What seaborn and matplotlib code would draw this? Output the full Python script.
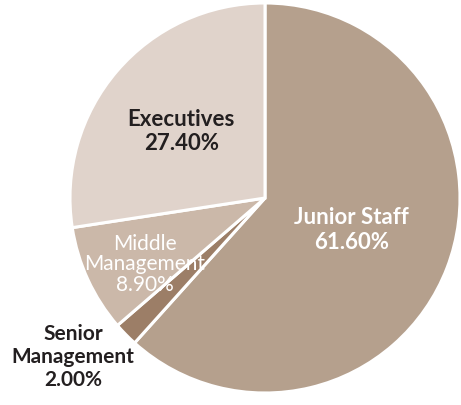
import matplotlib
matplotlib.use("Agg")
import matplotlib.pyplot as plt
import seaborn as sns

categories = ["Junior Staff", "Senior\nManagement", "Middle\nManagement", "Executives"]
shares = [61.60, 2.00, 8.90, 27.40]
colors = ["#b5a08d", "#9c7e67", "#cbb8a9", "#e0d3cb"]

sns.set_theme(style="white")
plt.rcParams["font.family"] = ["Lato", "DejaVu Sans"]

fig = plt.figure(figsize=(4.61, 4.05), dpi=100)
ax = fig.add_axes([70 / 461, 12 / 405, 390 / 461, 390 / 405])

wedges, _ = ax.pie(
    shares,
    colors=colors,
    startangle=90,
    counterclock=False,
    radius=1.0,
    wedgeprops=dict(edgecolor="white", linewidth=2.2),
)
ax.set_xlim(-1, 1)
ax.set_ylim(-1, 1)
ax.set_aspect("equal")
ax.axis("off")

label_pos = [(0.445, -0.165), (-0.985, -0.815), (-0.615, -0.34), (-0.43, 0.34)]
label_color = ["white", "#231f20", "white", "#231f20"]
label_weight = ["bold", "bold", "normal", "bold"]
label_size = [16, 15, 15, 16]
label_spacing = [1.2, 1.2, 1.05, 1.2]
for name, val, (x, y), c, w, s, ls in zip(categories, shares, label_pos, label_color,
                                          label_weight, label_size, label_spacing):
    ax.text(x, y, f"{name}\n{val:.2f}%", ha="center", va="center", color=c,
            fontsize=s, fontweight=w, linespacing=ls, clip_on=False)

fig.savefig("out.png", dpi=100)
